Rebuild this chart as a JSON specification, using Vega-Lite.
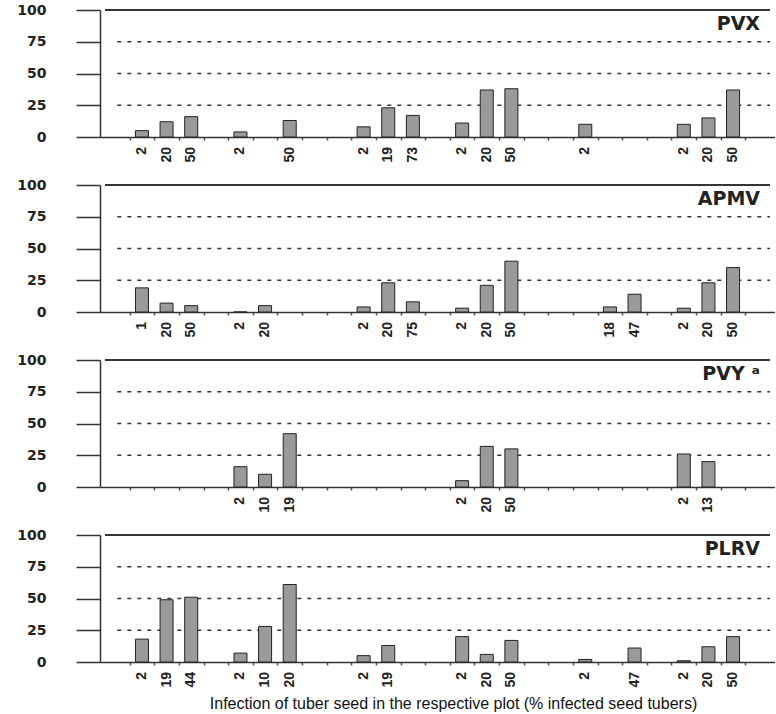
{
  "$schema": "https://vega.github.io/schema/vega-lite/v6.json",
  "padding": {"left": 16, "top": 3, "right": 0, "bottom": 4},
  "background": "white",
  "datasets": {
    "bars": [
      {"virus": "PVX", "slot": 0, "seed": "2", "pct": 5},
      {"virus": "PVX", "slot": 1, "seed": "20", "pct": 12},
      {"virus": "PVX", "slot": 2, "seed": "50", "pct": 16},
      {"virus": "PVX", "slot": 4, "seed": "2", "pct": 4},
      {"virus": "PVX", "slot": 6, "seed": "50", "pct": 13},
      {"virus": "PVX", "slot": 9, "seed": "2", "pct": 8},
      {"virus": "PVX", "slot": 10, "seed": "19", "pct": 23},
      {"virus": "PVX", "slot": 11, "seed": "73", "pct": 17},
      {"virus": "PVX", "slot": 13, "seed": "2", "pct": 11},
      {"virus": "PVX", "slot": 14, "seed": "20", "pct": 37},
      {"virus": "PVX", "slot": 15, "seed": "50", "pct": 38},
      {"virus": "PVX", "slot": 18, "seed": "2", "pct": 10},
      {"virus": "PVX", "slot": 22, "seed": "2", "pct": 10},
      {"virus": "PVX", "slot": 23, "seed": "20", "pct": 15},
      {"virus": "PVX", "slot": 24, "seed": "50", "pct": 37},
      {"virus": "APMV", "slot": 0, "seed": "1", "pct": 19},
      {"virus": "APMV", "slot": 1, "seed": "20", "pct": 7},
      {"virus": "APMV", "slot": 2, "seed": "50", "pct": 5},
      {"virus": "APMV", "slot": 4, "seed": "2", "pct": 0},
      {"virus": "APMV", "slot": 5, "seed": "20", "pct": 5},
      {"virus": "APMV", "slot": 9, "seed": "2", "pct": 4},
      {"virus": "APMV", "slot": 10, "seed": "20", "pct": 23},
      {"virus": "APMV", "slot": 11, "seed": "75", "pct": 8},
      {"virus": "APMV", "slot": 13, "seed": "2", "pct": 3},
      {"virus": "APMV", "slot": 14, "seed": "20", "pct": 21},
      {"virus": "APMV", "slot": 15, "seed": "50", "pct": 40},
      {"virus": "APMV", "slot": 19, "seed": "18", "pct": 4},
      {"virus": "APMV", "slot": 20, "seed": "47", "pct": 14},
      {"virus": "APMV", "slot": 22, "seed": "2", "pct": 3},
      {"virus": "APMV", "slot": 23, "seed": "20", "pct": 23},
      {"virus": "APMV", "slot": 24, "seed": "50", "pct": 35},
      {"virus": "PVY", "slot": 4, "seed": "2", "pct": 16},
      {"virus": "PVY", "slot": 5, "seed": "10", "pct": 10},
      {"virus": "PVY", "slot": 6, "seed": "19", "pct": 42},
      {"virus": "PVY", "slot": 13, "seed": "2", "pct": 5},
      {"virus": "PVY", "slot": 14, "seed": "20", "pct": 32},
      {"virus": "PVY", "slot": 15, "seed": "50", "pct": 30},
      {"virus": "PVY", "slot": 22, "seed": "2", "pct": 26},
      {"virus": "PVY", "slot": 23, "seed": "13", "pct": 20},
      {"virus": "PLRV", "slot": 0, "seed": "2", "pct": 18},
      {"virus": "PLRV", "slot": 1, "seed": "19", "pct": 49},
      {"virus": "PLRV", "slot": 2, "seed": "44", "pct": 51},
      {"virus": "PLRV", "slot": 4, "seed": "2", "pct": 7},
      {"virus": "PLRV", "slot": 5, "seed": "10", "pct": 28},
      {"virus": "PLRV", "slot": 6, "seed": "20", "pct": 61},
      {"virus": "PLRV", "slot": 9, "seed": "2", "pct": 5},
      {"virus": "PLRV", "slot": 10, "seed": "19", "pct": 13},
      {"virus": "PLRV", "slot": 13, "seed": "2", "pct": 20},
      {"virus": "PLRV", "slot": 14, "seed": "20", "pct": 6},
      {"virus": "PLRV", "slot": 15, "seed": "50", "pct": 17},
      {"virus": "PLRV", "slot": 18, "seed": "2", "pct": 2},
      {"virus": "PLRV", "slot": 20, "seed": "47", "pct": 11},
      {"virus": "PLRV", "slot": 22, "seed": "2", "pct": 1},
      {"virus": "PLRV", "slot": 23, "seed": "20", "pct": 12},
      {"virus": "PLRV", "slot": 24, "seed": "50", "pct": 20}
    ],
    "grid": [{"g": 25}, {"g": 50}, {"g": 75}]
  },
  "spacing": 48,
  "bounds": "flush",
  "vconcat": [
    {
      "width": 675, "height": 127,
      "title": {"text": "PVX"},
      "layer": [
        {"data": {"name": "grid"}, "mark": {"type": "rule", "strokeDash": [4, 6], "color": "#333", "strokeWidth": 1.3},
         "encoding": {"y": {"field": "g", "type": "quantitative"}, "x": {"datum": -1}, "x2": {"datum": 25.5}}},
        {"data": {"name": "grid"}, "mark": {"type": "rule", "color": "#333", "strokeWidth": 1.5},
         "encoding": {"y": {"datum": 100}, "x": {"datum": -1.5}, "x2": {"datum": 25.5}}},
        {"data": {"name": "bars"}, "transform": [{"filter": "datum.virus === 'PVX'"}],
         "mark": {"type": "bar", "width": 13, "fill": "#9a9a9a", "stroke": "#222", "strokeWidth": 1},
         "encoding": {
           "x": {"field": "slot", "type": "quantitative", "scale": {"domain": [-1.5, 25.5], "nice": false, "zero": false}, "axis": {"title": null, "tickCount": 40, "values": [-0.5, 0.5, 1.5, 2.5, 3.5, 4.5, 5.5, 6.5, 7.5, 8.5, 9.5, 10.5, 11.5, 12.5, 13.5, 14.5, 15.5, 16.5, 17.5, 18.5, 19.5, 20.5, 21.5, 22.5, 23.5, 24.5]}},
           "y": {"field": "pct", "type": "quantitative", "scale": {"domain": [0, 100], "nice": false}, "axis": {"title": null, "tickCount": 10, "values": [0, 25, 50, 75, 100]}}
         }},
        {"data": {"name": "bars"}, "transform": [{"filter": "datum.virus === 'PVX'"}],
         "mark": {"type": "text", "angle": 270, "align": "right", "baseline": "middle", "dx": -10, "font": "Liberation Sans", "fontWeight": "bold", "fontSize": 14, "color": "#222"},
         "encoding": {"x": {"field": "slot", "type": "quantitative"}, "y": {"datum": 0}, "text": {"field": "seed"}}}
      ]
    },
    {
      "width": 675, "height": 127,
      "title": {"text": "APMV"},
      "layer": [
        {"data": {"name": "grid"}, "mark": {"type": "rule", "strokeDash": [4, 6], "color": "#333", "strokeWidth": 1.3},
         "encoding": {"y": {"field": "g", "type": "quantitative"}, "x": {"datum": -1}, "x2": {"datum": 25.5}}},
        {"data": {"name": "grid"}, "mark": {"type": "rule", "color": "#333", "strokeWidth": 1.5},
         "encoding": {"y": {"datum": 100}, "x": {"datum": -1.5}, "x2": {"datum": 25.5}}},
        {"data": {"name": "bars"}, "transform": [{"filter": "datum.virus === 'APMV'"}],
         "mark": {"type": "bar", "width": 13, "fill": "#9a9a9a", "stroke": "#222", "strokeWidth": 1},
         "encoding": {
           "x": {"field": "slot", "type": "quantitative", "scale": {"domain": [-1.5, 25.5], "nice": false, "zero": false}, "axis": {"title": null, "tickCount": 40, "values": [-0.5, 0.5, 1.5, 2.5, 3.5, 4.5, 5.5, 6.5, 7.5, 8.5, 9.5, 10.5, 11.5, 12.5, 13.5, 14.5, 15.5, 16.5, 17.5, 18.5, 19.5, 20.5, 21.5, 22.5, 23.5, 24.5]}},
           "y": {"field": "pct", "type": "quantitative", "scale": {"domain": [0, 100], "nice": false}, "axis": {"title": null, "tickCount": 10, "values": [0, 25, 50, 75, 100]}}
         }},
        {"data": {"name": "bars"}, "transform": [{"filter": "datum.virus === 'APMV'"}],
         "mark": {"type": "text", "angle": 270, "align": "right", "baseline": "middle", "dx": -10, "font": "Liberation Sans", "fontWeight": "bold", "fontSize": 14, "color": "#222"},
         "encoding": {"x": {"field": "slot", "type": "quantitative"}, "y": {"datum": 0}, "text": {"field": "seed"}}}
      ]
    },
    {
      "width": 675, "height": 127,
      "title": {"text": "PVY ᵃ"},
      "layer": [
        {"data": {"name": "grid"}, "mark": {"type": "rule", "strokeDash": [4, 6], "color": "#333", "strokeWidth": 1.3},
         "encoding": {"y": {"field": "g", "type": "quantitative"}, "x": {"datum": -1}, "x2": {"datum": 25.5}}},
        {"data": {"name": "grid"}, "mark": {"type": "rule", "color": "#333", "strokeWidth": 1.5},
         "encoding": {"y": {"datum": 100}, "x": {"datum": -1.5}, "x2": {"datum": 25.5}}},
        {"data": {"name": "bars"}, "transform": [{"filter": "datum.virus === 'PVY'"}],
         "mark": {"type": "bar", "width": 13, "fill": "#9a9a9a", "stroke": "#222", "strokeWidth": 1},
         "encoding": {
           "x": {"field": "slot", "type": "quantitative", "scale": {"domain": [-1.5, 25.5], "nice": false, "zero": false}, "axis": {"title": null, "tickCount": 40, "values": [-0.5, 0.5, 1.5, 2.5, 3.5, 4.5, 5.5, 6.5, 7.5, 8.5, 9.5, 10.5, 11.5, 12.5, 13.5, 14.5, 15.5, 16.5, 17.5, 18.5, 19.5, 20.5, 21.5, 22.5, 23.5, 24.5]}},
           "y": {"field": "pct", "type": "quantitative", "scale": {"domain": [0, 100], "nice": false}, "axis": {"title": null, "tickCount": 10, "values": [0, 25, 50, 75, 100]}}
         }},
        {"data": {"name": "bars"}, "transform": [{"filter": "datum.virus === 'PVY'"}],
         "mark": {"type": "text", "angle": 270, "align": "right", "baseline": "middle", "dx": -10, "font": "Liberation Sans", "fontWeight": "bold", "fontSize": 14, "color": "#222"},
         "encoding": {"x": {"field": "slot", "type": "quantitative"}, "y": {"datum": 0}, "text": {"field": "seed"}}}
      ]
    },
    {
      "width": 675, "height": 127,
      "title": {"text": "PLRV"},
      "layer": [
        {"data": {"name": "grid"}, "mark": {"type": "rule", "strokeDash": [4, 6], "color": "#333", "strokeWidth": 1.3},
         "encoding": {"y": {"field": "g", "type": "quantitative"}, "x": {"datum": -1}, "x2": {"datum": 25.5}}},
        {"data": {"name": "grid"}, "mark": {"type": "rule", "color": "#333", "strokeWidth": 1.5},
         "encoding": {"y": {"datum": 100}, "x": {"datum": -1.5}, "x2": {"datum": 25.5}}},
        {"data": {"name": "bars"}, "transform": [{"filter": "datum.virus === 'PLRV'"}],
         "mark": {"type": "bar", "width": 13, "fill": "#9a9a9a", "stroke": "#222", "strokeWidth": 1},
         "encoding": {
           "x": {"field": "slot", "type": "quantitative", "scale": {"domain": [-1.5, 25.5], "nice": false, "zero": false}, "axis": {"tickCount": 40, "values": [-0.5, 0.5, 1.5, 2.5, 3.5, 4.5, 5.5, 6.5, 7.5, 8.5, 9.5, 10.5, 11.5, 12.5, 13.5, 14.5, 15.5, 16.5, 17.5, 18.5, 19.5, 20.5, 21.5, 22.5, 23.5, 24.5], "title": "Infection of tuber seed in the respective plot (% infected seed tubers)", "titlePadding": 30, "titleFont": "Liberation Sans", "titleFontSize": 16, "titleFontWeight": "normal", "titleColor": "#111", "titleX": 353}},
           "y": {"field": "pct", "type": "quantitative", "scale": {"domain": [0, 100], "nice": false}, "axis": {"title": null, "tickCount": 10, "values": [0, 25, 50, 75, 100]}}
         }},
        {"data": {"name": "bars"}, "transform": [{"filter": "datum.virus === 'PLRV'"}],
         "mark": {"type": "text", "angle": 270, "align": "right", "baseline": "middle", "dx": -10, "font": "Liberation Sans", "fontWeight": "bold", "fontSize": 14, "color": "#222"},
         "encoding": {"x": {"field": "slot", "type": "quantitative"}, "y": {"datum": 0}, "text": {"field": "seed"}}}
      ]
    }
  ],
  "config": {
    "view": {"stroke": null},
    "title": {"orient": "top", "anchor": "end", "frame": "group", "offset": -31, "dx": -15, "font": "DejaVu Sans", "fontWeight": "bold", "fontSize": 19, "color": "#222"},
    "axisY": {"grid": false, "labelOverlap": false, "tickSize": 24, "tickWidth": 1.5, "tickColor": "#333", "domainColor": "#333", "domainWidth": 1.5, "labelPadding": 30, "labelFont": "DejaVu Sans", "labelFontWeight": "bold", "labelFontSize": 14, "labelColor": "#222"},
    "axisX": {"labels": false, "grid": false, "tickSize": 3, "tickWidth": 1.5, "tickColor": "#555", "domainColor": "#333", "domainWidth": 1.5}
  }
}
